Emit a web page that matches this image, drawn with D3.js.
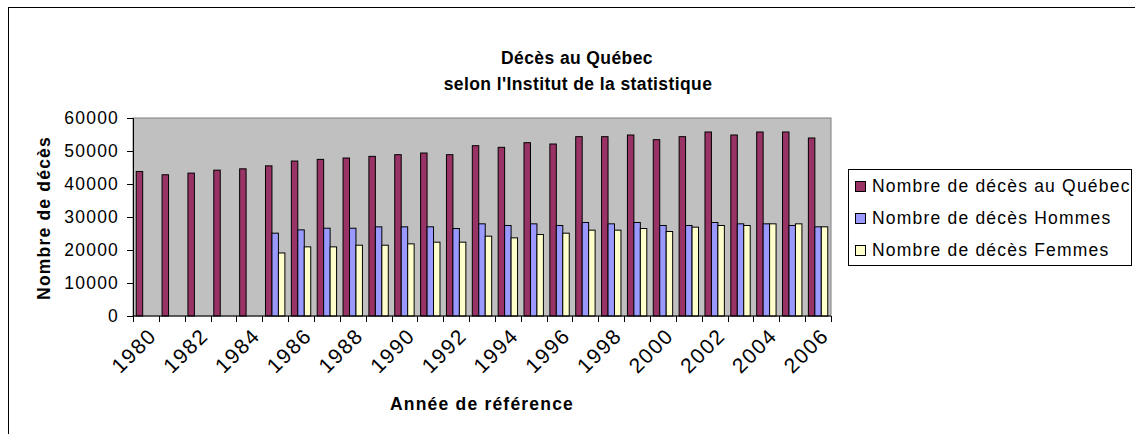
<!DOCTYPE html>
<html>
<head>
<meta charset="utf-8">
<script src="https://cdn.jsdelivr.net/npm/d3@7"></script>
<style>
  body { margin: 0; background: #fff; }
  svg { display: block; }
  text { font-family: "Liberation Sans", Arial, sans-serif; font-size: 17.5px; letter-spacing: 1.2px; fill: #000; }
</style>
</head>
<body>
<svg width="1135" height="434"></svg>
<script>
var years = [1980, 1981, 1982, 1983, 1984, 1985, 1986, 1987, 1988, 1989, 1990, 1991, 1992, 1993,
	1994, 1995, 1996, 1997, 1998, 1999, 2000, 2001, 2002, 2003, 2004, 2005, 2006];

var quebec = [43800, 42800, 43300, 44200, 44600, 45500, 46960, 47460, 47870, 48370, 48880, 49390, 48880, 51610,
	51110, 52520, 52120, 54340, 54340, 54850, 53430, 54340, 55760, 54850, 55760, 55760, 53940];

var hommes = [null, null, null, null, null, 25100, 26100, 26600, 26600, 27020, 27020, 27020, 26510, 27930,
	27430, 27930, 27430, 28340, 27930, 28340, 27430, 27430, 28340, 27930, 27930, 27430, 27020];

var femmes = [null, null, null, null, null, 19100, 20950, 20950, 21450, 21450, 21860, 22370, 22370, 24190,
	23680, 24690, 25100, 26010, 26010, 26510, 25600, 26920, 27430, 27430, 27930, 27930, 27020];

var seriesNames = ['Nombre de décès au Québec', 'Nombre de décès Hommes', 'Nombre de décès Femmes'];
var seriesColors = ['#993366', '#9999FF', '#FFFFCC'];
var yTicks = [0, 10000, 20000, 30000, 40000, 50000, 60000];

var svg = d3.select('svg');

var plot = { left: 133, top: 118, right: 831, bottom: 316 };

// outer chart border
svg.append('rect')
	.attr('x', 8.5).attr('y', 7.5)
	.attr('width', 1140).attr('height', 440)
	.attr('fill', 'none')
	.attr('stroke', '#000');

// titles
svg.append('text')
	.attr('x', 577).attr('y', 64)
	.attr('text-anchor', 'middle')
	.style('font-weight', 'bold')
	.style('letter-spacing', '0.4px')
	.text('Décès au Québec');
svg.append('text')
	.attr('x', 578).attr('y', 90)
	.attr('text-anchor', 'middle')
	.style('font-weight', 'bold')
	.style('letter-spacing', '0.4px')
	.text("selon l'Institut de la statistique");

var xScale = d3.scaleBand().domain(years).range([plot.left, plot.right]);
var yScale = d3.scaleLinear().domain([0, 60000]).range([plot.bottom, plot.top]);
var xInner = d3.scaleBand().domain([0, 1, 2])
	.range([xScale.bandwidth() / 8, xScale.bandwidth() * 7 / 8]);

// plot background
svg.append('rect')
	.attr('x', plot.left).attr('y', plot.top)
	.attr('width', plot.right - plot.left).attr('height', plot.bottom - plot.top)
	.attr('fill', '#C0C0C0')
	.attr('stroke', '#808080');

var table = years.map(function (y, i) {
	return { year: y, values: [quebec[i], hommes[i], femmes[i]] };
});

var groups = svg.selectAll('g.year')
	.data(table)
	.enter()
	.append('g')
	.attr('class', 'year')
	.attr('transform', function (d) { return 'translate(' + xScale(d.year) + ',0)'; });

groups.selectAll('rect')
	.data(function (d) {
		return d.values.map(function (v, k) { return { k: k, v: v }; })
			.filter(function (e) { return e.v != null; });
	})
	.enter()
	.append('rect')
	.attr('x', function (d) { return xInner(d.k); })
	.attr('y', function (d) { return yScale(d.v); })
	.attr('width', xInner.bandwidth())
	.attr('height', function (d) { return plot.bottom - yScale(d.v); })
	.attr('fill', function (d) { return seriesColors[d.k]; })
	.attr('stroke', '#000')
	.attr('stroke-width', 1);

// y axis
var yAxis = d3.axisLeft(yScale).tickValues(yTicks).tickSize(6).tickPadding(8).tickFormat(d3.format('d'));
var gy = svg.append('g')
	.attr('transform', 'translate(' + plot.left + ',0)')
	.call(yAxis);
gy.select('.domain').attr('stroke', '#000');
gy.selectAll('text').style('font-size', '17.5px').style('font-family', '"Liberation Sans", Arial, sans-serif');

// x axis: ticks at category boundaries, labels every other year
var xAxisG = svg.append('g').attr('transform', 'translate(0,' + plot.bottom + ')');
xAxisG.append('line')
	.attr('x1', plot.left).attr('x2', plot.right)
	.attr('stroke', '#000');
xAxisG.selectAll('line.tick')
	.data(years.concat([null]))
	.enter()
	.append('line')
	.attr('class', 'tick')
	.attr('x1', function (d, i) { return Math.round(plot.left + i * xScale.step()) + 0.5; })
	.attr('x2', function (d, i) { return Math.round(plot.left + i * xScale.step()) + 0.5; })
	.attr('y1', 0).attr('y2', 6)
	.attr('stroke', '#000');
xAxisG.selectAll('text.year')
	.data(years.filter(function (y) { return y % 2 === 0; }))
	.enter()
	.append('text')
	.attr('class', 'year')
	.attr('text-anchor', 'end')
	.attr('transform', function (d) {
		return 'translate(' + (xScale(d) + xScale.bandwidth() / 2 + 12) + ',21) rotate(-45)';
	})
	.style('font-size', '21px')
	.style('letter-spacing', '1.6px')
	.text(function (d) { return d; });

// axis titles
svg.append('text')
	.attr('transform', 'translate(50,218) rotate(-90)')
	.attr('text-anchor', 'middle')
	.style('font-weight', 'bold')
	.text('Nombre de décès');
svg.append('text')
	.attr('x', 482).attr('y', 410)
	.attr('text-anchor', 'middle')
	.style('font-weight', 'bold')
	.text('Année de référence');

// legend
var legend = svg.append('g');
legend.append('rect')
	.attr('x', 848.5).attr('y', 169.5)
	.attr('width', 283).attr('height', 96)
	.attr('fill', '#fff')
	.attr('stroke', '#000');
var items = legend.selectAll('g.item')
	.data(seriesNames)
	.enter()
	.append('g')
	.attr('class', 'item')
	.attr('transform', function (d, i) { return 'translate(855,' + (186 + i * 32) + ')'; });
items.append('rect')
	.attr('x', 0.5).attr('y', -4.5)
	.attr('width', 10).attr('height', 10)
	.attr('fill', function (d, i) { return seriesColors[i]; })
	.attr('stroke', '#000');
items.append('text')
	.attr('x', 17)
	.attr('dy', '0.35em')
	.text(function (d) { return d; });
</script>
</body>
</html>
